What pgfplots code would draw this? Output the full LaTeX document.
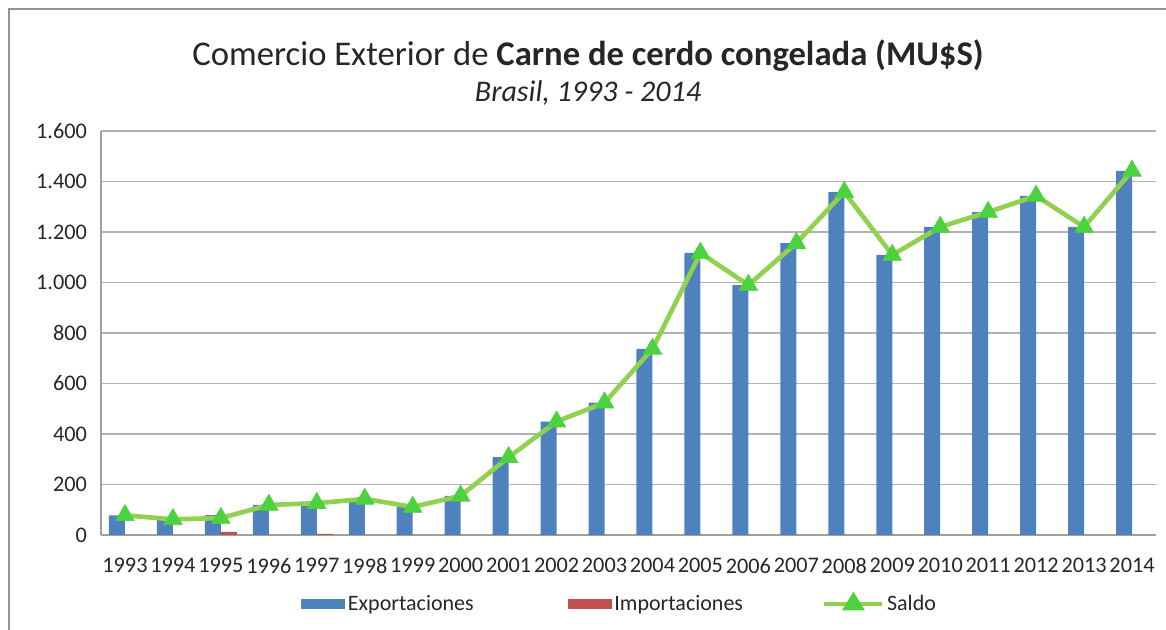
\documentclass[border=0pt]{standalone}
\usepackage{pgfplots}
\pgfplotsset{compat=1.18}
\usepackage{fontspec}
\setmainfont{Carlito}
\definecolor{expc}{HTML}{4F81BD}
\definecolor{impc}{HTML}{C0504D}
\definecolor{lineg}{HTML}{92D050}
\definecolor{markg}{HTML}{4CD23E}
\definecolor{txt}{HTML}{262626}
\begin{document}
\begin{tikzpicture}
\path[use as bounding box] (0,0) rectangle (874.5pt,472.5pt);
\draw[color=gray!85, line width=1.5pt] (6.75pt,0pt) -- (6.75pt,465.75pt) -- (874.5pt,465.75pt);
\node[anchor=base, font=\fontsize{26}{30}\selectfont, text=txt] at (441pt,423pt) {Comercio Exterior de \textbf{Carne de cerdo congelada (MU\$S)}};
\node[anchor=base, font=\fontsize{22.5}{26}\selectfont\itshape, text=txt] at (441pt,396pt) {Brasil, 1993 - 2014};
\begin{axis}[
  at={(75.75pt,71.25pt)}, anchor=south west,
  scale only axis, width=791.25pt, height=303pt,
  xmin=-0.5, xmax=21.5, ymin=0, ymax=1600,
  xtick={0,1,...,21},
  xticklabels={1993,1994,1995,1996,1997,1998,1999,2000,2001,2002,2003,2004,2005,2006,2007,2008,2009,2010,2011,2012,2013,2014},
  ytick={0,200,...,1600},
  ymajorgrids, grid style={gray!60, line width=0.8pt},
  axis x line*=bottom, axis y line*=left,
  axis line style={gray!75, line width=0.8pt, -},
  major tick length=0pt,
  tick label style={font=\fontsize{16.7}{19}\selectfont, text=txt},
  /pgf/number format/assume math mode=true,
  /pgf/number format/1000 sep={.},
  yticklabel style={xshift=-7pt},
  xticklabel style={yshift=-14pt},
  legend columns=3,
  legend style={at={(0.4919,-0.171)}, anchor=center, draw=none, fill=none,
    font=\fontsize{16.5}{19}\selectfont, text=txt,
    /tikz/column 2/.style={column sep=68.5pt},
    /tikz/column 4/.style={column sep=57.5pt}},
]
\addplot[ybar, bar width=12pt, bar shift=-6pt, fill=expc, draw=none,
  legend image code/.code={\fill[expc] (0pt,-3.5pt) rectangle (33pt,3.5pt);}]
coordinates {(0,78)(1,62)(2,79)(3,119)(4,130)(5,143)(6,111)(7,155)(8,308)(9,449)(10,524)(11,737)(12,1117)(13,990)(14,1156)(15,1358)(16,1109)(17,1220)(18,1279)(19,1343)(20,1220)(21,1442)};
\addlegendentry{Exportaciones}
\addplot[ybar, bar width=12pt, bar shift=6pt, fill=impc, draw=none,
  legend image code/.code={\fill[impc] (0pt,-3.5pt) rectangle (33pt,3.5pt);}]
coordinates {(0,0)(1,0)(2,12)(3,0)(4,4)(5,0)(6,0)(7,0)(8,0)(9,0)(10,0)(11,0)(12,0)(13,0)(14,0)(15,0)(16,0)(17,0)(18,0)(19,0)(20,0)(21,0)};
\addlegendentry{Importaciones}
\addplot[sharp plot, color=lineg, line width=3.5pt, mark=triangle*, mark size=8pt,
  mark options={fill=markg, draw=markg, line width=0.5pt},
  legend image code/.code={\draw[lineg, line width=3pt] (0pt,0pt)--(43.5pt,0pt); \fill[markg] (21.75pt,6pt)--(16.25pt,-3pt)--(27.25pt,-3pt)--cycle;}]
coordinates {(0,78)(1,62)(2,67)(3,119)(4,126)(5,143)(6,111)(7,155)(8,308)(9,449)(10,524)(11,737)(12,1117)(13,990)(14,1156)(15,1358)(16,1109)(17,1220)(18,1279)(19,1343)(20,1220)(21,1442)};
\addlegendentry{Saldo}
\end{axis}
\end{tikzpicture}
\end{document}
